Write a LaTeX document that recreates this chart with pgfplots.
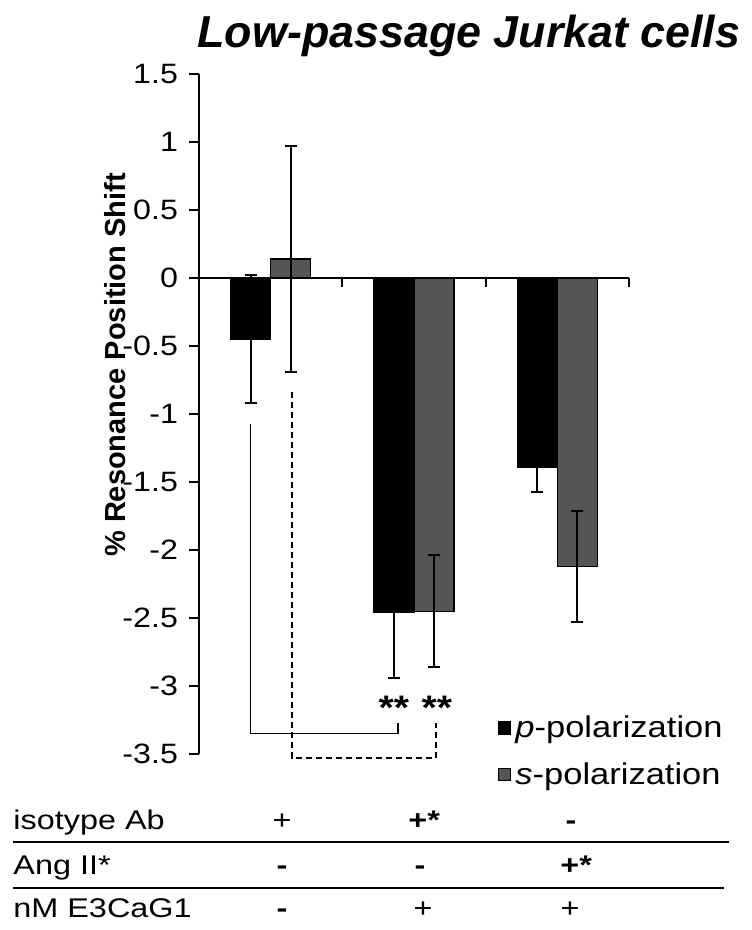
\documentclass[border=0pt]{standalone}
\usepackage{fontspec}
\setmainfont{Liberation Sans}
\newfontfamily\wfont{Liberation Sans}[FakeStretch=1.15]
\newfontfamily\tfont{Liberation Sans}[FakeStretch=1.2]
\usepackage{pgfplots}
\pgfplotsset{compat=1.18}
\definecolor{sgray}{HTML}{555555}
\begin{document}
\begin{tikzpicture}
\path[use as bounding box] (0pt,0pt) rectangle (375.5pt,-465pt);

\begin{axis}[
  at={(99.5pt,-377pt)}, anchor=south west,
  scale only axis, width=215pt, height=340pt,
  xmin=0.5, xmax=3.5, ymin=-3.5, ymax=1.5,
  axis x line=none, axis y line*=left,
  ybar=0pt, bar width=20pt,
  xtick=\empty,
  ytick={-3.5,-3,-2.5,-2,-1.5,-1,-0.5,0,0.5,1,1.5},
  yticklabels={-3.5,-3,-2.5,-2,-1.5,-1,-0.5,0,0.5,1,1.5},
  tick align=outside, major tick length=5pt,
  axis line style={line width=1pt, black},
  tick style={line width=1pt, black},
  yticklabel style={font=\wfont\fontsize{14}{16}\selectfont},
  yticklabel shift=2pt,
  clip=false,
  legend style={draw=none, fill=none, inner sep=0pt,
    at={(axis description cs:0.695,0.004)}, anchor=west,
    row sep=11pt, font=\wfont\fontsize{15}{18}\selectfont,
    nodes={inner xsep=2pt, inner ysep=0pt}},
  legend cell align=left,
  legend image code/.code={\fill[#1] (0pt,-3pt) rectangle (6pt,3pt);},
]

% p-polarization
\addplot[ybar, fill=black, draw=black, line width=0.6pt,
  error bars/.cd, y dir=both, y explicit,
  error bar style={line width=1pt, black},
  error mark options={rotate=90, mark size=3pt, line width=1pt, black}]
  coordinates {(1,-0.45) +- (0,0.47) (2,-2.46) +- (0,0.48) (3,-1.39) +- (0,0.18)};
\addlegendentry{\textit{p}-polarization}

% s-polarization
\addplot[ybar, fill=sgray, draw=black, line width=0.6pt,
  error bars/.cd, y dir=both, y explicit,
  error bar style={line width=1pt, black},
  error mark options={rotate=90, mark size=3pt, line width=1pt, black}]
  coordinates {(1,0.14) +- (0,0.83) (2,-2.45) +- (0,0.41) (3,-2.12) +- (0,0.41)};
\addlegendentry{\textit{s}-polarization}

% x axis at zero
\draw[line width=1pt] (axis cs:0.5,0) -- (axis cs:3.5,0);
\draw[line width=1pt] (axis cs:1.5,0) -- (axis cs:1.5,-0.066);
\draw[line width=1pt] (axis cs:2.5,0) -- (axis cs:2.5,-0.066);
\draw[line width=1pt] (axis cs:3.5,0) -- (axis cs:3.5,-0.066);

% significance brackets
\draw[line width=0.7pt] (axis cs:0.86,-1.07) -- (axis cs:0.86,-3.35)
  -- (axis cs:1.888,-3.35) -- (axis cs:1.888,-3.27);
\draw[line width=0.7pt, dash pattern=on 3pt off 2pt] (axis cs:1.15,-0.84)
  -- (axis cs:1.15,-3.53) -- (axis cs:2.153,-3.53) -- (axis cs:2.153,-3.27);
\node[font=\wfont\bfseries\fontsize{17}{20}\selectfont] at (axis cs:1.86,-3.16) {**};
\node[font=\wfont\bfseries\fontsize{17}{20}\selectfont] at (axis cs:2.16,-3.16) {**};
\end{axis}

\begin{scope}[x=0.5pt, y=-0.5pt]
% title and y label
\node[font=\bfseries\itshape\fontsize{22.4}{26}\selectfont] at (469,36) {Low-passage Jurkat cells};
\node[rotate=90, font=\bfseries\fontsize{14.5}{17}\selectfont] at (115,365) {\% Resonance Position Shift};

% condition table
\draw[line width=1.2pt] (13,842) -- (729,842);
\draw[line width=1.2pt] (13,888) -- (724,888);
\begin{scope}[every node/.style={font=\tfont\fontsize{13.5}{16}\selectfont, inner sep=0pt}]
\node[anchor=base west] at (13,829) {isotype Ab};
\node[anchor=base west] at (13,874) {Ang II*};
\node[anchor=base west] at (13,917) {nM E3CaG1};
\node[anchor=base] at (282,829) {+};
\node[anchor=base west] at (408,829) {\bfseries +*};
\node[anchor=base] at (571,829) {\bfseries -};
\node[anchor=base] at (282,874) {\bfseries -};
\node[anchor=base] at (420,874) {\bfseries -};
\node[anchor=base west] at (560,874) {\bfseries +*};
\node[anchor=base] at (282,917) {\bfseries -};
\node[anchor=base] at (423,917) {+};
\node[anchor=base] at (570,917) {+};
\end{scope}
\end{scope}
\end{tikzpicture}
\end{document}
